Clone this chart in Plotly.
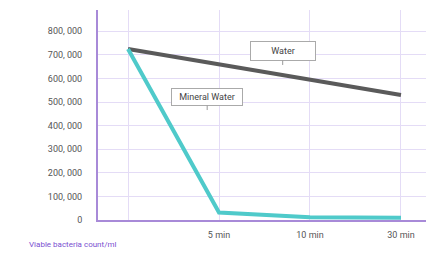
import plotly.graph_objects as go

time_labels = ["", "5 min", "10 min", "30 min"]
water = [725000, 660000, 595000, 530000]
mineral_water = [725000, 32000, 12000, 10000]
y_ticks = [0, 100000, 200000, 300000, 400000, 500000, 600000, 700000, 800000]
y_tick_text = ["0", "100, 000", "200, 000", "300, 000", "400, 000", "500, 000", "600, 000", "700, 000", "800, 000"]

x_pos = list(range(len(time_labels)))

fig = go.Figure()
fig.add_trace(go.Scatter(x=x_pos, y=water, mode="lines", name="Water",
                         line=dict(color="#5a5a5a", width=4)))
fig.add_trace(go.Scatter(x=x_pos, y=mineral_water, mode="lines", name="Mineral Water",
                         line=dict(color="#4fcaca", width=4)))

ann_font = dict(family="Roboto, Arial, sans-serif", size=9, color="#444")
fig.add_annotation(x=1.70, y=657000, text="Water", showarrow=True, arrowhead=0,
                   arrowcolor="#999", arrowwidth=1, ax=0, ay=-14,
                   bgcolor="white", bordercolor="#aaa", borderwidth=1, borderpad=4,
                   width=56, font=ann_font)
fig.add_annotation(x=0.87, y=466000, text="Mineral Water", showarrow=True, arrowhead=0,
                   arrowcolor="#999", arrowwidth=1, ax=0, ay=-13,
                   bgcolor="white", bordercolor="#aaa", borderwidth=1, borderpad=3,
                   width=64, font=ann_font)
fig.add_annotation(xref="paper", yref="paper", x=-0.217, y=-0.115, xanchor="left", yanchor="middle",
                   text="Viable bacteria count/ml", showarrow=False,
                   font=dict(family="Roboto, Arial, sans-serif", size=8, color="#7a4fd0"))

fig.update_layout(
    width=426, height=257,
    margin=dict(l=98, r=0, t=10, b=37),
    paper_bgcolor="white", plot_bgcolor="white",
    showlegend=False,
    xaxis=dict(range=[-0.33, 3.275], tickvals=x_pos, ticktext=time_labels,
               showgrid=True, gridcolor="#e4dcf6", gridwidth=1,
               showline=True, linecolor="#a88ad8", linewidth=2,
               zeroline=False, ticks="", ticklabelstandoff=5,
               tickfont=dict(family="Roboto, Arial, sans-serif", size=9, color="#555")),
    yaxis=dict(range=[0, 890000], tickvals=y_ticks, ticktext=y_tick_text,
               showgrid=True, gridcolor="#e4dcf6", gridwidth=1,
               showline=True, linecolor="#a88ad8", linewidth=2,
               zeroline=False, ticks="", ticklabelstandoff=12,
               tickfont=dict(family="Roboto, Arial, sans-serif", size=9, color="#555")),
)

fig.write_html("out.html", config={"displayModeBar": False},
               post_script="document.body.style.margin='0';")
